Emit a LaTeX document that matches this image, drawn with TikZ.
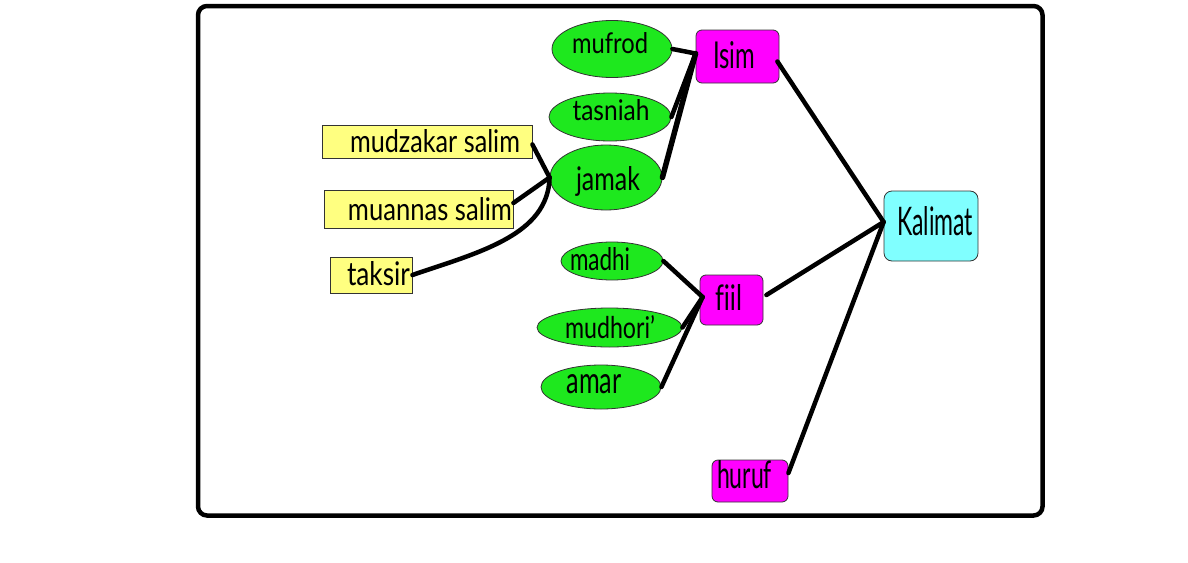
\documentclass[tikz,border=0pt]{standalone}
\usepackage{fontspec}
\setmainfont[Ligatures={NoCommon}]{Lato}
\usetikzlibrary{shapes.geometric}
\definecolor{egreen}{RGB}{30,232,30}
\definecolor{bmag}{RGB}{255,0,255}
\definecolor{bcyan}{RGB}{128,255,255}
\definecolor{byel}{RGB}{255,255,128}
\tikzset{
  oval/.style={ellipse, draw=black!80, line width=0.8pt, fill=egreen, inner sep=0pt},
  ybox/.style={rectangle, draw=black!80, line width=0.8pt, fill=byel, inner sep=0pt},
  mbox/.style={rectangle, rounded corners=6pt, draw=black!80, line width=0.8pt, fill=bmag, inner sep=0pt},
  cbox/.style={rectangle, rounded corners=8pt, draw=black!80, line width=0.8pt, fill=bcyan, inner sep=0pt},
  lbl/.style={anchor=base, inner sep=0pt, text=black},
  conn/.style={line width=4.5pt, line cap=round, black},
}
\newcommand{\fitt}[3]{\resizebox{#1pt}{#2pt}{#3}}
\begin{document}
\begin{tikzpicture}[x=1pt,y=-1pt]
\useasboundingbox (0,0) rectangle (1188,562);
\draw[line width=4.5pt, rounded corners=9pt] (198,6) rectangle (1042.5,515.5);

% ellipses
\node[oval, minimum width=120pt, minimum height=57pt] (mufrod) at (612,49) {};
\node[oval, minimum width=122pt, minimum height=48pt] (tasniah) at (610,117) {};
\node[oval, minimum width=112pt, minimum height=65pt] (jamak) at (606,177.5) {};
\node[oval, minimum width=102pt, minimum height=38pt] (madhi) at (612,261) {};
\node[oval, minimum width=145pt, minimum height=39pt] (mudhori) at (609.5,327.5) {};
\node[oval, minimum width=120pt, minimum height=44pt] (amar) at (601,387) {};

% yellow boxes
\node[ybox, minimum width=210pt, minimum height=33pt] (mudzakar) at (427,141.5) {};
\node[ybox, minimum width=189pt, minimum height=38pt] (muannas) at (418.5,209) {};
\node[ybox, minimum width=82pt, minimum height=36pt] (taksir) at (371,275) {};

% magenta / cyan boxes
\node[mbox, minimum width=83pt, minimum height=53pt] (isim) at (737.5,56.5) {};
\node[mbox, minimum width=63pt, minimum height=50pt] (fiil) at (731.5,300) {};
\node[mbox, minimum width=76pt, minimum height=42pt] (huruf) at (750,481) {};
\node[cbox, minimum width=94pt, minimum height=70pt] (kalimat) at (931,226) {};

% labels
\node[lbl] (tmufrod) at (610,53) {\fitt{76}{21}{mufrod}};
\node[lbl] (ttasniah) at (611,120) {\fitt{77}{21}{tasniah}};
\node[lbl] (tjamak) at (608,190) {\fitt{64}{24}{jamak}};
\node[lbl] (tmadhi) at (600,270) {\fitt{60}{23}{madhi}};
\node[lbl] (tmudhori) at (610,338) {\fitt{90}{23}{mudhori'}};
\node[lbl] (tamar) at (594,393) {\fitt{55}{19}{amar}};
\node[lbl] (tmudzakar) at (435,152) {\fitt{170}{23}{mudzakar salim}};
\node[lbl] (tmuannas) at (430,220) {\fitt{164}{23}{muannas salim}};
\node[lbl] (ttaksir) at (378.5,285) {\fitt{63}{24}{taksir}};
\node[lbl] (tisim) at (734,68) {\fitt{42}{27}{Isim}};
\node[lbl] (tfiil) at (728.5,310) {\fitt{27}{26}{fiil}};
\node[lbl] (thuruf) at (744.5,488) {\fitt{55}{28}{huruf}};
\node[lbl] (tkalimat) at (935,235) {\fitt{76}{29}{Kalimat}};

% connectors
\draw[conn] (mufrod.east) -- ([yshift=3pt]isim.west);
\draw[conn] (tasniah.east) -- ([yshift=3pt]isim.west);
\draw[conn, line width=5.5pt] (jamak.east) -- ([yshift=3pt]isim.west);
\draw[conn] ([yshift=-3pt]mudzakar.east) -- (jamak.west);
\draw[conn] ([yshift=6pt]muannas.east) -- (jamak.west);
\draw[conn] (taksir.east) .. controls (480,252) and (548,235) .. (jamak.west);
\draw[conn] (madhi.east) -- ([yshift=3pt,xshift=3pt]fiil.west);
\draw[conn] (mudhori.east) -- ([yshift=3pt,xshift=3pt]fiil.west);
\draw[conn] (amar.east) -- ([yshift=3pt,xshift=3pt]fiil.west);
\draw[conn] ([yshift=-5pt,xshift=-2pt]isim.east) -- ([yshift=4pt]kalimat.west);
\draw[conn] ([yshift=5pt,xshift=3pt]fiil.east) -- ([yshift=4pt]kalimat.west);
\draw[conn] ([yshift=8pt]huruf.east) -- ([yshift=4pt]kalimat.west);
\end{tikzpicture}
\end{document}
